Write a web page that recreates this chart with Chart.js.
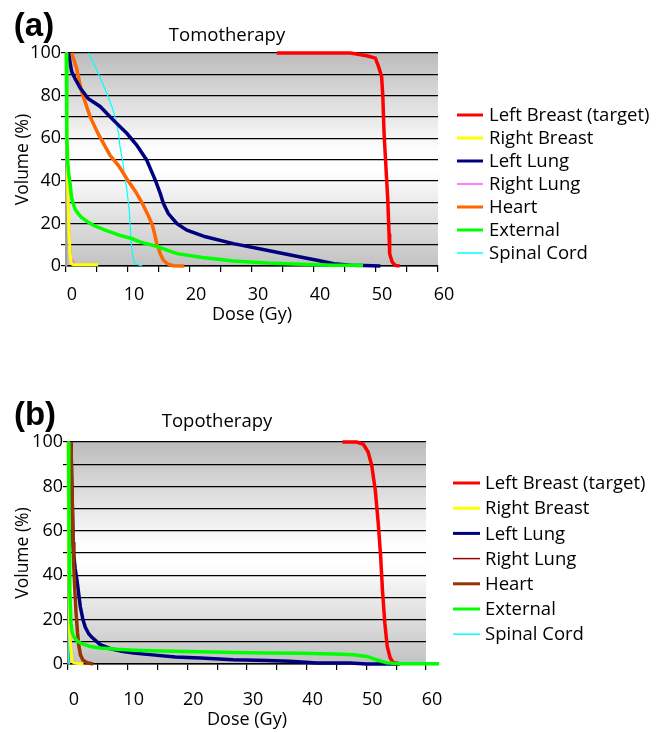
<!DOCTYPE html>
<html><head><meta charset="utf-8">
<script src="https://cdn.jsdelivr.net/npm/chart.js@4.4.0/dist/chart.umd.min.js"></script>
<style>
html,body{margin:0;padding:0;background:#fff;}
canvas{display:block;}
</style></head><body>
<canvas id="c1" width="665" height="366"></canvas>
<canvas id="c2" width="665" height="366"></canvas>
<script>
// ---------- DATA ----------
const seriesNames = ['Left Breast (target)', 'Right Breast', 'Left Lung', 'Right Lung', 'Heart', 'External', 'Spinal Cord'];
const xTicks = [0, 10, 20, 30, 40, 50, 60];
const yTicks = [0, 20, 40, 60, 80, 100];

// (a) Tomotherapy
const tomoLeftBreastDose = [34, 40, 45.9, 48.5, 49.9, 50.4, 50.9, 51.1, 51.3, 51.6, 51.9, 52.1, 52.2, 52.6, 53.1, 53.8];
const tomoLeftBreastVol  = [100, 100, 100, 98.7, 97.6, 93.7, 89, 79.6, 62.3, 46.6, 30.9, 15.2, 5.8, 1.9, 0.3, 0];
const tomoRightBreastDose = [0, 0.1, 0.2, 0.3, 0.5, 0.67, 0.8, 0.9, 1.2, 2, 3.5, 5.2];
const tomoRightBreastVol  = [100, 80, 55, 35, 15, 5, 2, 1, 0.6, 0.6, 0.6, 0.6];
const tomoRightLungDose = [0, 0.1, 0.25, 0.4, 0.55, 0.7, 0.9, 1.3, 2, 3, 4.5];
const tomoRightLungVol  = [100, 85, 55, 35, 20, 10, 4, 1.2, 0.6, 0.6, 0.6];
const tomoLeftLungDose = [0.4, 0.9, 1.45, 2.3, 3.6, 5.5, 7.6, 9.8, 11.4, 13, 14.4, 15.2, 15.7, 16.5, 17.9, 19.5, 22.5, 27, 32.4, 37.8, 40.5, 43.2, 45.9, 48, 50.7];
const tomoLeftLungVol  = [100, 91.4, 88, 83.5, 78.5, 74.9, 68.6, 62.3, 56.8, 49.8, 40.3, 34.1, 29.4, 24.6, 19.9, 16.8, 13.7, 10.5, 7.4, 4.2, 2.7, 1.1, 0.3, 0.2, 0];
const tomoHeartDose = [0.9, 1.7, 2.5, 3.9, 5.2, 7.1, 8.5, 9.8, 11.2, 12.2, 13.3, 13.9, 14.3, 14.6, 15.2, 15.7, 16.5, 17.3, 19.1];
const tomoHeartVol  = [100, 93, 82, 70, 62, 52, 47, 41, 35, 30, 23.5, 19.5, 15, 11, 5.8, 2.7, 0.8, 0.1, 0];
const tomoExternalDose = [0.05, 0.1, 0.15, 0.25, 0.4, 0.65, 0.9, 1.2, 1.5, 2, 2.5, 3.6, 4.5, 6.2, 8.7, 10.6, 11.9, 14.6, 17.9, 22, 27, 32.4, 37.8, 43.2, 47.9];
const tomoExternalVol  = [100, 80, 62, 50, 44, 38.8, 32, 29, 26.5, 24.5, 22.8, 20.5, 19, 17, 14.4, 12.9, 11.3, 9.2, 5.8, 4, 2.4, 1.4, 0.8, 0.4, 0.3];
const tomoSpinalDose = [3.6, 4.5, 5.2, 6.6, 7.5, 7.9, 8.5, 8.7, 9.1, 9.5, 9.8, 10.0, 10.2, 10.4, 10.6, 10.8, 11.1, 12.3];
const tomoSpinalVol  = [100, 95, 90.5, 81, 74, 70, 62, 56, 50, 42, 36, 31, 26, 16, 9, 4, 1.1, 0];

// (b) Topotherapy
const topoLeftBreastDose = [46, 48.4, 49.5, 50.3, 50.9, 51.5, 52, 52.4, 52.7, 53.1, 53.5, 54, 54.5, 55.6];
const topoLeftBreastVol  = [100, 100, 99, 95.5, 89.5, 78.3, 63.3, 48.4, 33.4, 18.4, 7.9, 2.7, 0.7, 0.1];
const topoRightBreastDose = [0, 0.1, 0.2, 0.3, 0.5, 0.67, 1, 2, 2.6];
const topoRightBreastVol  = [100, 60, 30, 14, 6, 1.2, 0.5, 0.1, 0];
const topoLeftLungDose = [0.5, 0.6, 0.7, 0.85, 0.94, 1.2, 1.5, 2.06, 2.5, 2.9, 3.5, 4, 5.4, 7, 9, 11, 14.6, 18, 22.2, 27.7, 33.3, 37.2, 41.7, 47.3, 50, 55.6];
const topoLeftLungVol  = [100, 85, 75, 55, 49.8, 43, 37.9, 25.9, 20, 16.5, 13.5, 12, 8.7, 7, 5.7, 4.9, 4, 3.2, 2.7, 1.9, 1.6, 1.2, 0.5, 0.4, 0.05, 0];
const topoRightLungDose = [0.15, 0.2, 0.3, 0.4, 0.55, 0.8, 1.5, 2.2];
const topoRightLungVol  = [100, 60, 30, 12, 4, 1, 0.2, 0];
const topoHeartDose = [0.5, 0.6, 0.7, 0.85, 0.95, 1.15, 1.35, 1.6, 1.8, 2.1, 2.5, 3.2, 4.2];
const topoHeartVol  = [100, 85, 75, 55, 45, 33, 23, 14, 8.5, 4, 1.8, 0.6, 0];
const topoExternalDose = [0.1, 0.15, 0.2, 0.3, 0.5, 0.7, 0.95, 1.5, 2.1, 3.7, 5.4, 8.2, 11, 15.5, 22.2, 27.7, 33.3, 38.9, 44.5, 47.8, 50.1, 51.7, 53.4, 55.6, 62.2];
const topoExternalVol  = [100, 70, 50, 33.4, 18.4, 14, 12.4, 10.5, 9.4, 7.9, 7.2, 6.6, 6.2, 5.8, 5.5, 5.2, 4.9, 4.8, 4.5, 4.2, 3.4, 1.9, 0.5, 0.1, 0.1];
const topoSpinalDose = [0.05, 0.08, 0.1, 0.12, 0.15, 0.3];
const topoSpinalVol  = [100, 60, 30, 8, 1, 0];

// ---------- STYLES ----------
const tomoColors = ['#ff0000', '#ffff00', '#00007f', '#ff55ff', '#ff6600', '#00ff00', '#00ffff'];
const topoColors = ['#ff0000', '#ffff00', '#00007f', '#990000', '#993300', '#00ff00', '#00ffff'];
const tomoWidths = [3.5, 3, 3.5, 1.5, 3.5, 3.5, 1.2];
const topoWidths = [3.5, 3, 3.5, 1.5, 3.5, 3.5, 1.2];
const topoOrder = [2, 4, 3, 5, 1, 0, 6];
const tomoOrder = [0, 4, 2, 5, 3, 1, 6];

function zip(xs, ys) { return xs.map((x, i) => ({ x: x, y: ys[i] })); }

const FONT = "'Open Sans', 'DejaVu Sans', sans-serif";
Chart.defaults.font.family = FONT;
Chart.defaults.color = '#000';

const panelDecor = {
  id: 'panelDecor',
  beforeDraw(chart, args, o) {
    const { ctx, chartArea: a } = chart;
    const g = ctx.createLinearGradient(0, a.top, 0, a.bottom);
    g.addColorStop(0, '#bcbcbc');
    g.addColorStop(0.45, '#fdfdfd');
    g.addColorStop(0.55, '#ffffff');
    g.addColorStop(1, '#c2c2c2');
    ctx.save();
    ctx.fillStyle = g;
    ctx.fillRect(a.left, a.top, a.right - a.left, a.bottom - a.top);
    ctx.restore();
  },
  afterDraw(chart, args, o) {
    const ctx = chart.ctx;
    ctx.save();
    ctx.fillStyle = '#000';
    ctx.textBaseline = 'middle';
    ctx.textAlign = 'center';
    ctx.font = "bold 33px 'Liberation Sans', Arial, sans-serif";
    ctx.fillText(o.label, o.labelX, o.labelY);
    ctx.font = '18.5px ' + FONT;
    ctx.fillText(o.title, o.titleX, o.titleY);
    // legend
    ctx.textAlign = 'left';
    ctx.font = '18.5px ' + FONT;
    chart.data.datasets.forEach((ds, i) => {
      const y = o.legY + i * o.legDy;
      ctx.strokeStyle = ds.borderColor;
      ctx.lineWidth = Math.max(1.5, Math.min(3, ds.borderWidth));
      ctx.beginPath();
      ctx.moveTo(o.legX0, y);
      ctx.lineTo(o.legX1, y);
      ctx.stroke();
      ctx.fillStyle = '#000';
      ctx.fillText(ds.label, o.legTx, y + 1);
    });
    ctx.restore();
  }
};

function makeChart(id, sets, colors, widths, orders, g) {
  const datasets = sets.map((s, i) => ({
    label: seriesNames[i],
    data: zip(s[0], s[1]),
    borderColor: colors[i],
    backgroundColor: colors[i],
    borderWidth: widths[i],
    pointRadius: 0,
    tension: 0,
    fill: false,
    clip: false,
    order: orders[i]
  }));
  return new Chart(document.getElementById(id), {
    type: 'line',
    data: { datasets },
    plugins: [panelDecor],
    options: {
      responsive: false,
      animation: false,
      devicePixelRatio: 1,
      layout: { padding: { top: g.top, right: g.right, left: 0, bottom: 0 } },
      plugins: {
        legend: { display: false },
        tooltip: { enabled: false },
        panelDecor: g.decor
      },
      scales: {
        x: {
          type: 'linear', min: 0, max: 60,
          afterFit(s) { s.height = g.xHeight; },
          afterBuildTicks(s) { s.ticks = []; for (let v = 0; v <= 60; v += 5) s.ticks.push({ value: v }); },
          ticks: {
            autoSkip: false, maxRotation: 0, padding: g.xPad, labelOffset: 6,
            font: { size: 18 },
            callback: (v) => xTicks.includes(v) ? String(v) : ''
          },
          grid: { drawOnChartArea: false, color: '#000', tickLength: 6, lineWidth: 1.2 },
          border: { color: '#000', width: 1.5 },
          title: { display: true, text: 'Dose (Gy)', font: { size: 18 }, padding: { top: 0, bottom: g.xTitlePad } }
        },
        y: {
          type: 'linear', min: 0, max: 100,
          afterFit(s) { s.width = g.left; },
          afterBuildTicks(s) { s.ticks = []; for (let v = 0; v <= 100; v += 10) s.ticks.push({ value: v }); },
          ticks: {
            autoSkip: false, padding: 0,
            font: { size: 18 },
            callback: (v) => yTicks.includes(v) ? String(v) : ''
          },
          grid: { color: '#000', lineWidth: 1.2, tickLength: 5 },
          border: { color: g.yBorder, width: g.yBorderW },
          title: { display: true, text: 'Volume (%)', font: { size: 17.5 }, padding: { top: 13, bottom: 0 } }
        }
      }
    }
  });
}

makeChart('c1', [
  [tomoLeftBreastDose, tomoLeftBreastVol],
  [tomoRightBreastDose, tomoRightBreastVol],
  [tomoLeftLungDose, tomoLeftLungVol],
  [tomoRightLungDose, tomoRightLungVol],
  [tomoHeartDose, tomoHeartVol],
  [tomoExternalDose, tomoExternalVol],
  [tomoSpinalDose, tomoSpinalVol]
], tomoColors, tomoWidths, tomoOrder, {
  top: 53, right: 227, left: 66, xHeight: 100, xPad: 12, xTitlePad: 40,
  yBorder: '#a0a0a0', yBorderW: 2.5,
  decor: { label: '(a)', labelX: 34, labelY: 27, title: 'Tomotherapy', titleX: 227, titleY: 36,
           legX0: 457, legX1: 483, legTx: 489, legY: 115, legDy: 23 }
});

makeChart('c2', [
  [topoLeftBreastDose, topoLeftBreastVol],
  [topoRightBreastDose, topoRightBreastVol],
  [topoLeftLungDose, topoLeftLungVol],
  [topoRightLungDose, topoRightLungVol],
  [topoHeartDose, topoHeartVol],
  [topoExternalDose, topoExternalVol],
  [topoSpinalDose, topoSpinalVol]
], topoColors, topoWidths, topoOrder, {
  top: 76, right: 239, left: 68, xHeight: 68, xPad: 19, xTitlePad: 1,
  yBorder: '#808080', yBorderW: 3,
  decor: { label: '(b)', labelX: 35, labelY: 50, title: 'Topotherapy', titleX: 217, titleY: 56,
           legX0: 453, legX1: 480, legTx: 485, legY: 117, legDy: 25.2 }
});
</script>
</body></html>
